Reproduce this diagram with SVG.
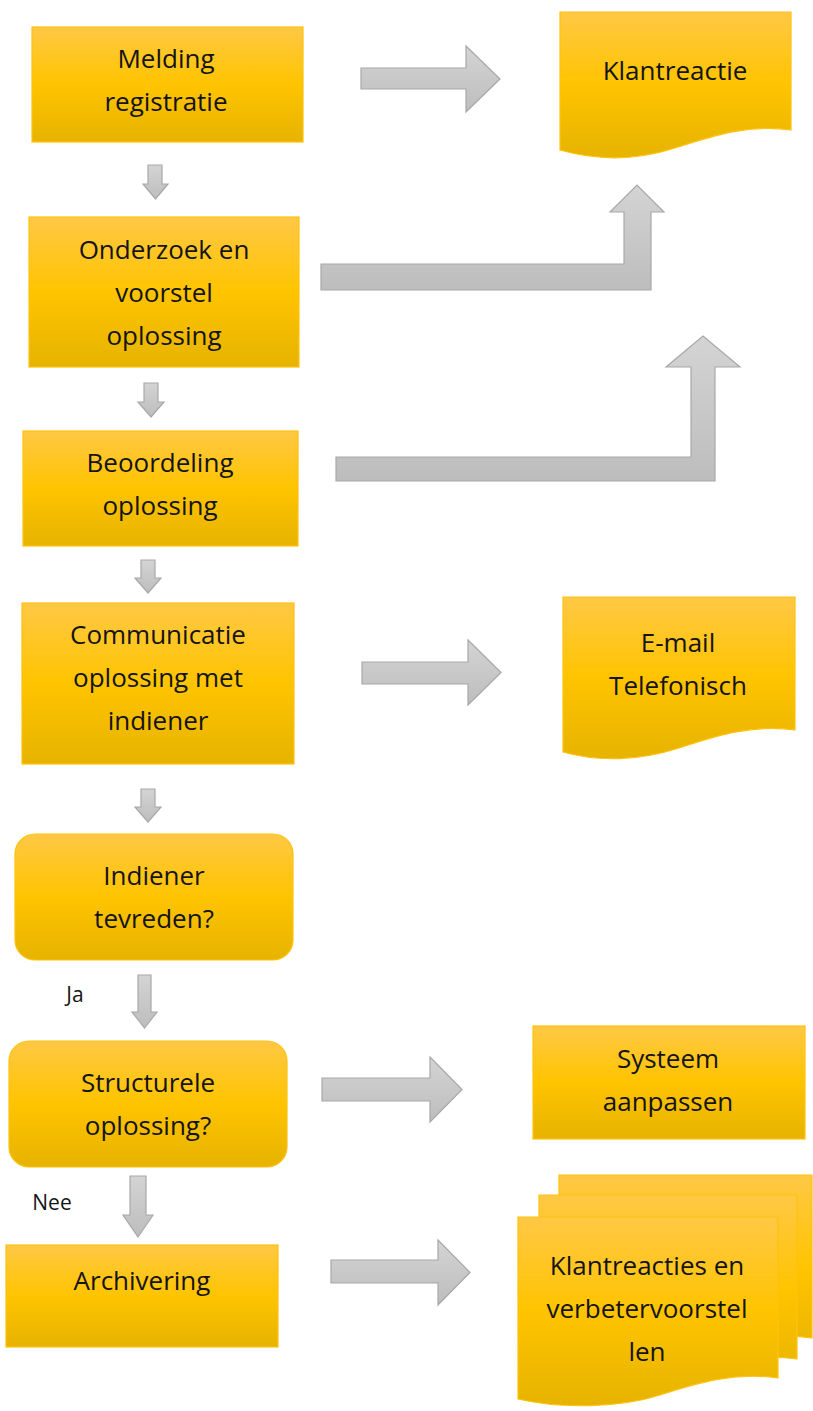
<svg xmlns="http://www.w3.org/2000/svg" width="813" height="1411" viewBox="0 0 813 1411">
<defs>
<linearGradient id="gy" x1="0" y1="0" x2="0" y2="1">
<stop offset="0" stop-color="#ffc845"/>
<stop offset="0.5" stop-color="#ffc400"/>
<stop offset="1" stop-color="#e6b300"/>
</linearGradient>
<linearGradient id="gg" x1="0" y1="0" x2="0" y2="1">
<stop offset="0" stop-color="#d4d4d4"/>
<stop offset="1" stop-color="#bdbdbd"/>
</linearGradient>
</defs>
<style>
.n{fill:url(#gy);stroke:#ffc20e;stroke-width:1.2}
.a{fill:url(#gg);stroke:#a8a8a8;stroke-width:1.2}
text{font-family:"Open Sans","Liberation Sans",sans-serif;font-size:26px;fill:#141414;text-anchor:middle}
.l{font-size:21px}
</style>
<g id="connectors">
<path class="a" d="M361,68 H466 V46 L500,79 L466,112 V89 H361 Z"/>
<path class="a" d="M148,165 H162 V184 H168 L155.5,199 L143,184 H148 Z"/>
<path class="a" d="M321,264 H624 V212 H610 L637,185 L664,212 H651 V290 H321 Z"/>
<path class="a" d="M144,383 H158 V402 H164 L151,417 L138,402 H144 Z"/>
<path class="a" d="M336,457 H691 V367 H666 L703,336 L740,367 H715 V481 H336 Z"/>
<path class="a" d="M141,560 H155 V578 H161 L148,593 L135,578 H141 Z"/>
<path class="a" d="M362,662 H468 V640 L501,672.5 L468,705 V684 H362 Z"/>
<path class="a" d="M141,789 H155 V807 H161 L148,822 L135,807 H141 Z"/>
<path class="a" d="M138,975 H151 V1012 H157 L144.5,1028 L132,1012 H138 Z"/>
<path class="a" d="M322,1078 H430 V1057 L462,1089.5 L430,1122 V1101 H322 Z"/>
<path class="a" d="M130,1176 H146 V1215 H153 L138,1237 L123,1215 H130 Z"/>
<path class="a" d="M331,1260 H438 V1240 L470,1272.5 L438,1305 V1283 H331 Z"/>
<text class="l" x="75" y="1002">Ja</text>
<text class="l" x="52" y="1210">Nee</text>
</g>
<g id="melding">
<rect class="n" x="32" y="27" width="271" height="115"/>
<text x="166" y="68">Melding</text>
<text x="166" y="111">registratie</text>
</g>
<g id="klantreactie">
<path class="n" d="M560,12 H791 V130 C750,124 715,135 675,148 C635,161 595,160 560,150 Z"/>
<text x="675" y="80">Klantreactie</text>
</g>
<g id="onderzoek">
<rect class="n" x="29" y="217" width="270" height="150"/>
<text x="164" y="259">Onderzoek en</text>
<text x="164" y="302">voorstel</text>
<text x="164" y="345">oplossing</text>
</g>
<g id="beoordeling">
<rect class="n" x="23" y="431" width="275" height="115"/>
<text x="160" y="472">Beoordeling</text>
<text x="160" y="515">oplossing</text>
</g>
<g id="communicatie">
<rect class="n" x="22" y="603" width="272" height="161"/>
<text x="158" y="644">Communicatie</text>
<text x="158" y="687">oplossing met</text>
<text x="158" y="730">indiener</text>
</g>
<g id="email">
<path class="n" d="M563,597 H795 V730 C754,724 718,735 679,748 C639,761 598,762 563,752 Z"/>
<text x="678" y="652">E-mail</text>
<text x="678" y="695">Telefonisch</text>
</g>
<g id="tevreden">
<rect class="n" x="15" y="834" width="278" height="126" rx="20"/>
<text x="154" y="885">Indiener</text>
<text x="154" y="928">tevreden?</text>
</g>
<g id="structureel">
<rect class="n" x="9" y="1041" width="278" height="126" rx="20"/>
<text x="148" y="1092">Structurele</text>
<text x="148" y="1135">oplossing?</text>
</g>
<g id="systeem">
<rect class="n" x="533" y="1026" width="272" height="113"/>
<text x="668" y="1068">Systeem</text>
<text x="668" y="1111">aanpassen</text>
</g>
<g id="archivering">
<rect class="n" x="6" y="1245" width="272" height="102"/>
<text x="142" y="1290">Archivering</text>
</g>
<g id="klantreacties">
<path class="n" d="M559,1175 H812 V1338 C770,1332 740,1342 700,1355 C660,1368 600,1368 559,1358 Z"/>
<path class="n" d="M539,1195 H797 V1359 C755,1353 722,1363 683,1376 C643,1389 580,1389 539,1379 Z"/>
<path class="n" d="M518,1217 H778 V1378 C735,1372 700,1382 660,1395 C620,1408 560,1409 518,1399 Z"/>
<text x="647" y="1275">Klantreacties en</text>
<text x="647" y="1318">verbetervoorstel</text>
<text x="647" y="1361">len</text>
</g>
</svg>
